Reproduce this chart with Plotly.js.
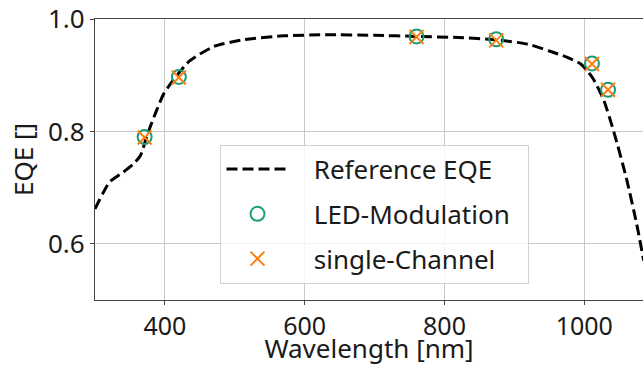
<!DOCTYPE html>
<html>
<head>
<meta charset="utf-8">
<script src="https://cdn.plot.ly/plotly-3.0.1.min.js"></script>
<style>html,body{margin:0;padding:0;background:#fff;}#chart{width:643px;height:366px;}</style>
</head>
<body>
<div id="chart"></div>
<script>
// Reference EQE curve
const refWavelength = [300, 321, 340, 355, 365, 375, 388, 398, 410, 435, 470, 512, 570, 630, 700, 760, 820, 875, 920, 950, 975, 995, 1012, 1028, 1043, 1060, 1075, 1085];
const refEQE        = [0.662, 0.710, 0.727, 0.742, 0.757, 0.795, 0.837, 0.866, 0.888, 0.925, 0.951, 0.963, 0.970, 0.972, 0.971, 0.969, 0.967, 0.963, 0.955, 0.943, 0.932, 0.920, 0.895, 0.855, 0.796, 0.718, 0.635, 0.570];

// Measured points
const ledWavelength = [371, 420, 760, 874, 1011, 1034];
const ledEQE        = [0.790, 0.897, 0.969, 0.964, 0.921, 0.874];
const scWavelength  = [371, 420, 760, 874, 1011, 1034];
const scEQE         = [0.789, 0.896, 0.968, 0.962, 0.920, 0.874];

const xTicks = [400, 600, 800, 1000];
const yTicks = [0.6, 0.8, 1.0];
const yTickText = ['0.6', '0.8', '1.0'];

const FONT = 'Noto Sans, Open Sans, sans-serif';
const PAD = '\u00a0\u00a0\u00a0';
const TAIL = '\u00a0\u00a0';

const traces = [
  {
    x: refWavelength, y: refEQE, type: 'scatter', mode: 'lines',
    name: PAD + 'Reference EQE' + TAIL, legendgroup: 'a',
    line: {color: '#000000', width: 3, dash: '11px,5px', shape: 'spline', smoothing: 0.6}
  },
  {
    x: ledWavelength, y: ledEQE, type: 'scatter', mode: 'markers',
    name: PAD + 'LED-Modulation' + TAIL, legendgroup: 'b',
    marker: {symbol: 'circle-open', size: 14, color: '#1b9e77', line: {width: 2, color: '#1b9e77'}}
  },
  {
    x: scWavelength, y: scEQE, type: 'scatter', mode: 'markers',
    name: PAD + 'single-Channel' + TAIL, legendgroup: 'c',
    marker: {symbol: 'x-thin-open', size: 14, color: '#ff7f0e', line: {width: 2, color: '#ff7f0e'}}
  }
];

const layout = {
  width: 643, height: 366,
  margin: {l: 95, r: 0, t: 19, b: 66, pad: 0},
  paper_bgcolor: '#ffffff', plot_bgcolor: '#ffffff',
  font: {family: FONT, size: 26, color: '#1a1a1a'},
  showlegend: true,
  legend: {
    x: 0.229, y: 0.553, xanchor: 'left', yanchor: 'top',
    bgcolor: 'rgba(255,255,255,0.8)', bordercolor: '#d0d0d0', borderwidth: 1,
    font: {family: FONT, size: 26, color: '#1a1a1a'},
    itemwidth: 62, traceorder: 'grouped', tracegroupgap: 8
  },
  xaxis: {
    range: [300, 1084], tickvals: xTicks, ticks: 'outside', ticklen: 4, tickwidth: 1, tickcolor: '#444',
    showline: true, linecolor: '#444', linewidth: 1.2, mirror: true,
    showgrid: true, gridcolor: '#c8c8c8', gridwidth: 1, zeroline: false,
    tickfont: {family: FONT, size: 25, color: '#1a1a1a'},
    title: {text: 'Wavelength [nm]', font: {family: FONT, size: 26, color: '#1a1a1a'}}
  },
  yaxis: {
    range: [0.5, 1.0], tickvals: yTicks, ticktext: yTickText, ticks: 'outside', ticklen: 4, tickwidth: 1, tickcolor: '#444',
    showline: true, linecolor: '#444', linewidth: 1.2,
    showgrid: true, gridcolor: '#c8c8c8', gridwidth: 1, zeroline: false,
    tickfont: {family: FONT, size: 26, color: '#1a1a1a'},
    title: {text: 'EQE []', font: {family: FONT, size: 26, color: '#1a1a1a'}}
  }
};

Plotly.newPlot('chart', traces, layout, {displayModeBar: false, staticPlot: true});
</script>
</body>
</html>
